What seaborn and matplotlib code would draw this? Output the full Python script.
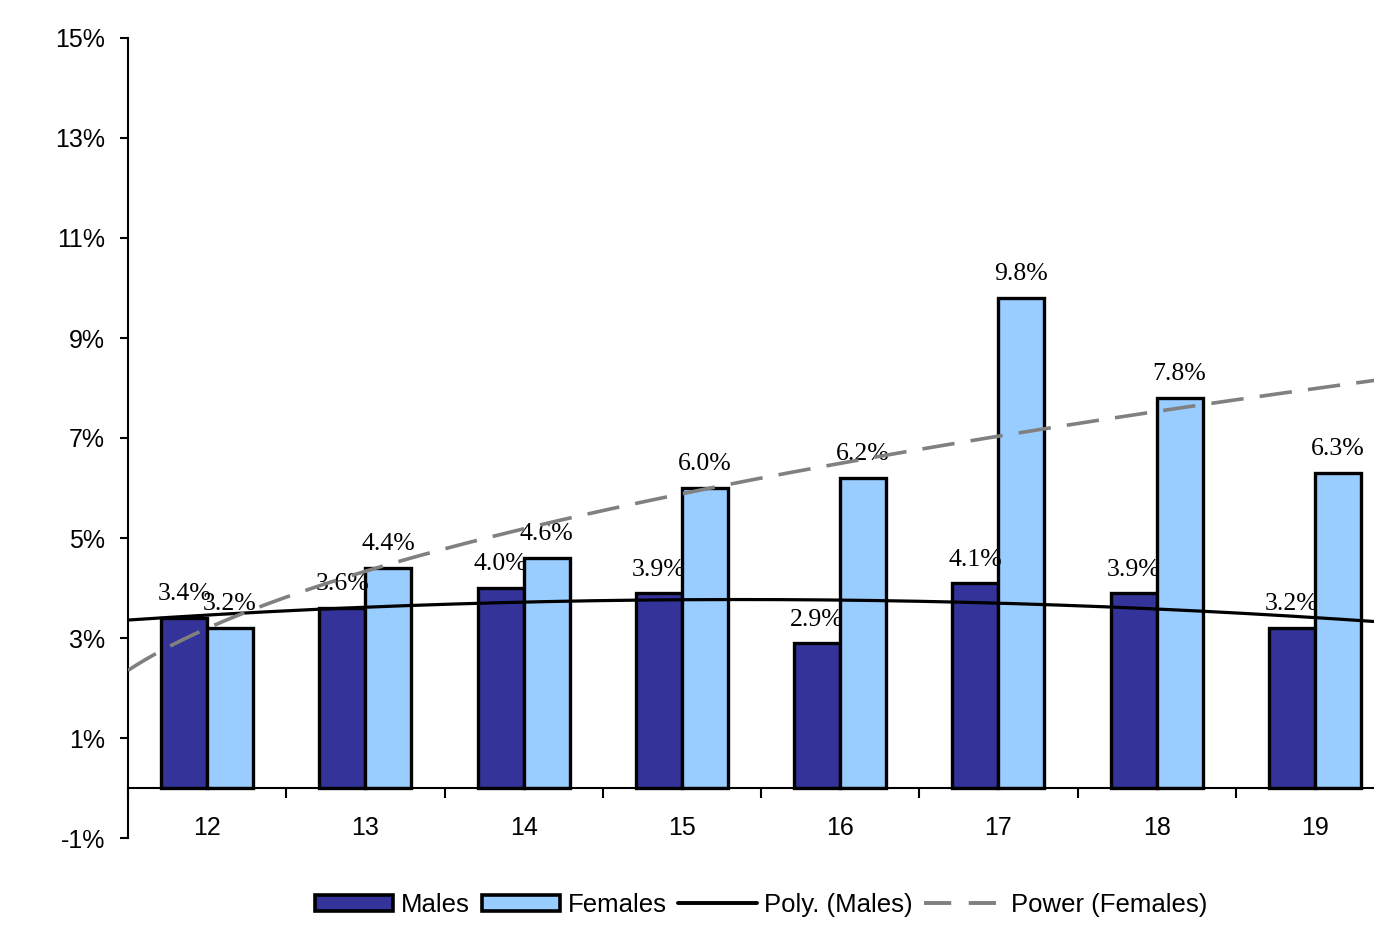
import numpy as np
import pandas as pd
import matplotlib
matplotlib.use("Agg")
import matplotlib.pyplot as plt
import seaborn as sns
from matplotlib.patches import Patch
from matplotlib.lines import Line2D
from matplotlib.ticker import FuncFormatter, FixedLocator

# ── DATA ──────────────────────────────────────────────────────────────────────
ages    = ["12", "13", "14", "15", "16", "17", "18", "19"]
males   = [3.4, 3.6, 4.0, 3.9, 2.9, 4.1, 3.9, 3.2]
females = [3.2, 4.4, 4.6, 6.0, 6.2, 9.8, 7.8, 6.3]
y_ticks = [-1, 1, 3, 5, 7, 9, 11, 13, 15]
# ─────────────────────────────────────────────────────────────────────────────

MALE_C   = "#333399"
FEMALE_C = "#99CCFF"
SANS  = "Liberation Sans"
SERIF = "Liberation Serif"

df = pd.DataFrame({
    "age": ages * 2,
    "rate": males + females,
    "sex": ["Males"] * len(ages) + ["Females"] * len(ages),
})

sns.set_theme(style="white")
plt.rcParams["font.family"] = [SANS, "DejaVu Sans"]
plt.rcParams["text.color"] = "black"
plt.rcParams["xtick.color"] = "black"
plt.rcParams["ytick.color"] = "black"

fig = plt.figure(figsize=(13.74, 9.27), dpi=100)
ax = fig.add_axes([128 / 1374, 89 / 927, 1266 / 1374, 800 / 927])

sns.barplot(data=df, x="age", y="rate", hue="sex", order=ages,
            palette={"Males": MALE_C, "Females": FEMALE_C}, saturation=1,
            width=0.58, edgecolor="black", linewidth=2.4,
            legend=False, ax=ax)

for cont in ax.containers:
    ax.bar_label(cont, fmt="%.1f%%", padding=9, fontsize=18.5,
                 family=SERIF, color="black")

# trend lines fitted from the data (Excel-style: x = 1..n)
xi = np.arange(1, len(ages) + 1)
xs = np.linspace(0.5, len(ages) + 0.5, 300)
poly = np.polyfit(xi, males, 2)
ax.plot(xs - 1, np.polyval(poly, xs), color="black", lw=2.3, zorder=5)
b, ln_a = np.polyfit(np.log(xi), np.log(females), 1)
ax.plot(xs - 1, np.exp(ln_a) * xs ** b, color="#808080", lw=2.6,
        dashes=(9, 4.5), zorder=5)

ax.set_xlim(-0.5, len(ages) - 0.5)
ax.set_ylim(-1, 15)
ax.yaxis.set_major_locator(FixedLocator(y_ticks))
ax.yaxis.set_major_formatter(FuncFormatter(lambda v, p: f"{v:.0f}%"))
ax.tick_params(axis="y", direction="out", length=6, width=1.5, pad=10.5,
               labelsize=18, left=True)

for s in ["top", "right"]:
    ax.spines[s].set_visible(False)
ax.spines["left"].set_linewidth(1.5)
ax.spines["left"].set_color("black")
ax.spines["bottom"].set_position(("data", 0))
ax.spines["bottom"].set_linewidth(1.5)
ax.spines["bottom"].set_color("black")

ax.set_xticks(np.arange(-0.5, len(ages)), minor=True)
ax.tick_params(axis="x", which="major", length=0, pad=20, labelsize=18)
ax.tick_params(axis="x", which="minor", direction="out", length=7,
               width=1.5, bottom=True)
ax.set_xlabel("")
ax.set_ylabel("")

handles = [
    Patch(facecolor=MALE_C, edgecolor="black", linewidth=2.6, label="Males"),
    Patch(facecolor=FEMALE_C, edgecolor="black", linewidth=2.6, label="Females"),
    Line2D([], [], color="black", lw=2.8, label="Poly. (Males)"),
    Line2D([], [], color="#808080", lw=2.8, dashes=(7, 4.5), label="Power (Females)"),
]
fig.legend(handles=handles, loc="center", bbox_to_anchor=(761 / 1374, 1 - 905 / 927),
           ncol=4, frameon=False, fontsize=18.5, handlelength=3.05,
           handleheight=0.6, handletextpad=0.3, columnspacing=0.45)

fig.savefig("out.png", dpi=100)
